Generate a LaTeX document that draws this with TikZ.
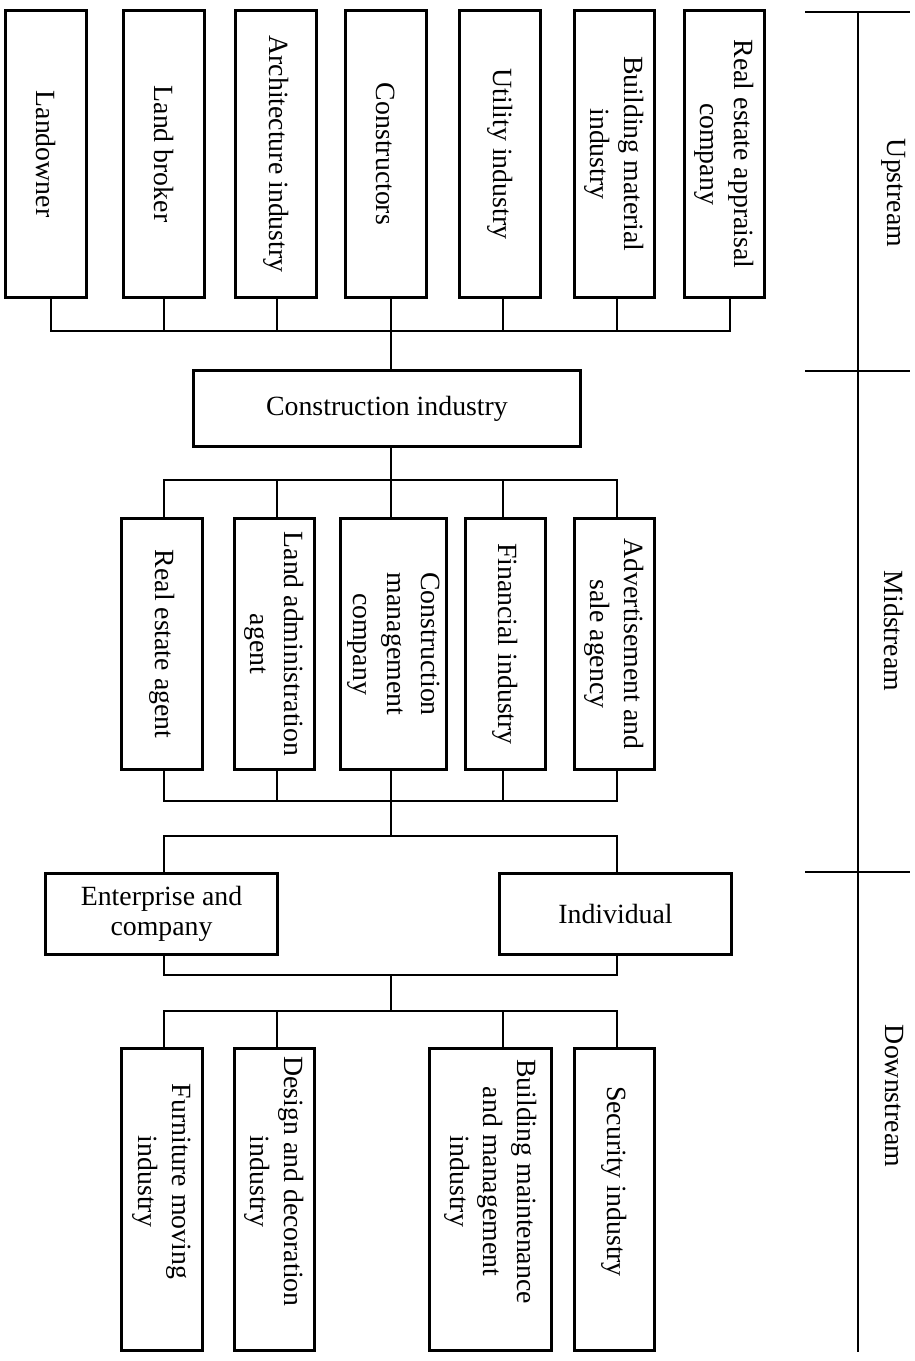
\documentclass[tikz,border=0pt]{standalone}
\usepackage{fontspec}
\setmainfont{Liberation Serif}
\usetikzlibrary{fit}
\begin{document}
\begin{tikzpicture}[x=0.5pt,y=-0.5pt,
  box/.style={draw, line width=1.6pt, inner sep=0pt},
  txt/.style={align=center, inner sep=0pt, font=\fontsize{13.9}{15}\selectfont},
  vtxt/.style={align=center, inner sep=0pt, font=\fontsize{13.9}{16.9}\selectfont, rotate=-90},
  conn/.style={line width=0.65pt},
  scale line/.style={line width=0.8pt}]
\useasboundingbox (0,0) rectangle (915,1361);
% ---------- upstream boxes ----------
\node[box, fit={(5.5,10.5)(86.5,297.5)}] (lo) {};
\node[box, fit={(123.5,10.5)(204.5,297.5)}] (lb) {};
\node[box, fit={(235.5,10.5)(316.5,297.5)}] (ar) {};
\node[box, fit={(345.5,10.5)(426.5,297.5)}] (co) {};
\node[box, fit={(459.5,10.5)(540.5,297.5)}] (ut) {};
\node[box, fit={(574.5,10.5)(654.5,297.5)}] (bm) {};
\node[box, fit={(684.5,10.5)(764.5,297.5)}] (ra) {};
\node[vtxt] (lo-t) at (lo.center) {Landowner};
\node[vtxt] (lb-t) at (lb.center) {Land broker};
\node[vtxt] (ar-t) at (ar.center) {Architecture industry};
\node[vtxt] (co-t) at (co.center) {Constructors};
\node[vtxt] (ut-t) at (ut.center) {Utility industry};
\node[vtxt] (bm-t) at (bm.center) {Building material\\industry};
\node[vtxt] (ra-t) at (ra.center) {Real estate appraisal\\company};
% ---------- construction industry ----------
\node[box, fit={(193.5,370.5)(580.5,446.5)}] (ci) {};
\node[txt] (ci-t) at (ci.center) {Construction industry};
% ---------- midstream boxes ----------
\node[box, fit={(121.5,518.5)(202.5,769.5)}] (rea) {};
\node[box, fit={(234.5,518.5)(314.5,769.5)}] (lad) {};
\node[box, fit={(340.5,518.5)(446.5,769.5)}] (cmc) {};
\node[box, fit={(465.5,518.5)(545.5,769.5)}] (fin) {};
\node[box, fit={(574.5,518.5)(654.5,769.5)}] (adv) {};
\node[vtxt] (rea-t) at (rea.center) {Real estate agent};
\node[vtxt] (lad-t) at (lad.center) {Land administration\\agent};
\node[vtxt] (cmc-t) at (cmc.center) {Construction\\management\\company};
\node[vtxt] (fin-t) at (fin.center) {Financial industry};
\node[vtxt] (adv-t) at (adv.center) {Advertisement and\\sale agency};
% ---------- customers ----------
\node[box, fit={(45.5,873.5)(277.5,954.5)}] (ent) {};
\node[box, fit={(499.5,873.5)(731.5,954.5)}] (ind) {};
\node[txt] (ent-t) at (ent.center) {Enterprise and\\company};
\node[txt] (ind-t) at (ind.center) {Individual};
% ---------- downstream boxes ----------
\node[box, fit={(121.5,1048.5)(202.5,1350.5)}] (fur) {};
\node[box, fit={(234.5,1048.5)(314.5,1350.5)}] (des) {};
\node[box, fit={(429.5,1048.5)(551.5,1350.5)}] (bmm) {};
\node[box, fit={(574.5,1048.5)(654.5,1350.5)}] (sec) {};
\node[vtxt] (fur-t) at ([yshift=9pt]fur.center) {Furniture moving\\industry};
\node[vtxt] (des-t) at ([yshift=9pt]des.center) {Design and decoration\\industry};
\node[vtxt] (bmm-t) at ([yshift=9pt]bmm.center) {Building maintenance\\and management\\industry};
\node[vtxt] (sec-t) at ([yshift=9pt]sec.center) {Security industry};
% ---------- trunk points ----------
\coordinate (t1) at (391,331);
\coordinate (t2) at (391,480);
\coordinate (t3) at (391,801);
\coordinate (t4) at (391,836);
\coordinate (t5) at (391,975);
\coordinate (t6) at (391,1011);
% ---------- connectors ----------
\draw[conn] ([xshift=2.5pt]lo.south) |- (t1);
\draw[conn] (lb.south) |- (t1);
\draw[conn] ([xshift=0.5pt]ar.south) |- (t1);
\draw[conn] ([xshift=2.5pt]co.south) |- (t1);
\draw[conn] ([xshift=1.5pt]ut.south) |- (t1);
\draw[conn] ([xshift=1.25pt]bm.south) |- (t1);
\draw[conn] ([xshift=2.75pt]ra.south) |- (t1);
\draw[conn] (t1) -- (t1 |- ci.north);
\draw[conn] (t1 |- ci.south) -- (t2);
\draw[conn] (t2) -| ([xshift=1pt]rea.north);
\draw[conn] (t2) -| ([xshift=1.25pt]lad.north);
\draw[conn] (t2) -| ([xshift=-1.25pt]cmc.north);
\draw[conn] (t2) -| ([xshift=-1.25pt]fin.north);
\draw[conn] (t2) -| ([xshift=1.25pt]adv.north);
\draw[conn] ([xshift=1pt]rea.south) |- (t3);
\draw[conn] ([xshift=1.25pt]lad.south) |- (t3);
\draw[conn] ([xshift=-1.25pt]cmc.south) |- (t3);
\draw[conn] ([xshift=-1.25pt]fin.south) |- (t3);
\draw[conn] ([xshift=1.25pt]adv.south) |- (t3);
\draw[conn] (t3) -- (t4);
\draw[conn] (t4) -| ([xshift=1.25pt]ent.north);
\draw[conn] (t4) -| ([xshift=0.75pt]ind.north);
\draw[conn] ([xshift=1.25pt]ent.south) |- (t5);
\draw[conn] ([xshift=0.75pt]ind.south) |- (t5);
\draw[conn] (t5) -- (t6);
\draw[conn] (t6) -| ([xshift=1pt]fur.north);
\draw[conn] (t6) -| ([xshift=1.25pt]des.north);
\draw[conn] (t6) -| ([xshift=6.25pt]bmm.north);
\draw[conn] (t6) -| ([xshift=1.25pt]sec.north);
% ---------- stage scale ----------
\coordinate (s0) at (858,12);
\coordinate (s3) at (858,1352);
\coordinate (k0l) at (805,12);   \coordinate (k0r) at (910,12);
\coordinate (k1l) at (805,371);  \coordinate (k1r) at (910,371);
\coordinate (k2l) at (805,872);  \coordinate (k2r) at (910,872);
\draw[scale line] (s0) -- (s3);
\draw[scale line] (k0l) -- (k0r);
\draw[scale line] (k1l) -- (k1r);
\draw[scale line] (k2l) -- (k2r);
\node[vtxt] (up) at (894,193) {Upstream};
\node[vtxt] (mid) at (894,631) {Midstream};
\node[vtxt] (down) at (894,1096) {Downstream};
\end{tikzpicture}
\end{document}
